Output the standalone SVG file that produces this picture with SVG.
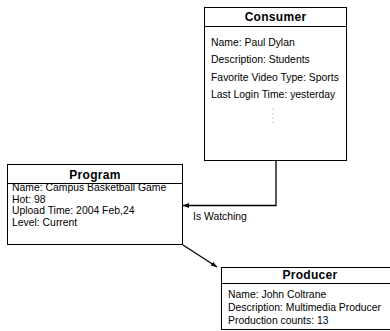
<svg xmlns="http://www.w3.org/2000/svg" width="390" height="331" viewBox="0 0 390 331">
<defs>
<style>
.box{fill:#fff;stroke:#000;stroke-width:1}
.div{stroke:#000;stroke-width:1}
.title{font-family:"Liberation Sans",Arial,sans-serif;font-size:12px;font-weight:bold;fill:#000;text-anchor:middle;letter-spacing:0.3px}
.txt{font-family:"Liberation Sans",Arial,sans-serif;font-size:10.4px;fill:#000}
.conn{fill:none;stroke:#000;stroke-width:1.3}
</style>
<marker id="arr" viewBox="0 0 10 10" refX="10" refY="5" markerWidth="6" markerHeight="6" orient="auto" markerUnits="userSpaceOnUse">
<path d="M0,1 L10,5 L0,9 z" fill="#000"/>
</marker>
</defs>
<rect width="390" height="331" fill="#fff"/>
<g id="consumer">
<rect class="box" x="204.5" y="7.5" width="142" height="153"/>
<line class="div" x1="204.5" y1="26.5" x2="346.5" y2="26.5"/>
<text class="title" x="275.5" y="21">Consumer</text>
<text class="txt" x="211" y="45.5">Name: Paul Dylan</text>
<text class="txt" x="211" y="63">Description: Students</text>
<text class="txt" x="211" y="80.5">Favorite Video Type: Sports</text>
<text class="txt" x="211" y="98">Last Login Time: yesterday</text>
<g fill="#999">
<rect x="272.5" y="108.5" width="1" height="1"/>
<rect x="272.5" y="113" width="1" height="1"/>
<rect x="272.5" y="117.5" width="1" height="1"/>
<rect x="272.5" y="122" width="1" height="1"/>
</g>
</g>
<g id="program">
<rect class="box" x="7.5" y="164.5" width="175" height="80"/>
<line class="div" x1="7.5" y1="183.5" x2="182.5" y2="183.5"/>
<text class="title" x="95" y="179">Program</text>
<text class="txt" x="12" y="191">Name: Campus Basketball Game</text>
<text class="txt" x="12" y="202.5">Hot: 98</text>
<text class="txt" x="12" y="214">Upload Time: 2004 Feb,24</text>
<text class="txt" x="12" y="225.5">Level: Current</text>
</g>
<g id="producer">
<rect class="box" x="221.5" y="267.5" width="178" height="62"/>
<line class="div" x1="221.5" y1="283.5" x2="399.5" y2="283.5"/>
<text class="title" x="310" y="279">Producer</text>
<text class="txt" x="228" y="297.5">Name: John Coltrane</text>
<text class="txt" x="228" y="310.5">Description: Multimedia Producer</text>
<text class="txt" x="228" y="323.5">Production counts: 13</text>
</g>
<g id="connectors">
<polyline class="conn" points="276,161 276,205.5 183,205.5" marker-end="url(#arr)"/>
<line class="conn" x1="183" y1="245" x2="217" y2="267" marker-end="url(#arr)"/>
<text class="txt" x="193" y="220">Is Watching</text>
</g>
</svg>
